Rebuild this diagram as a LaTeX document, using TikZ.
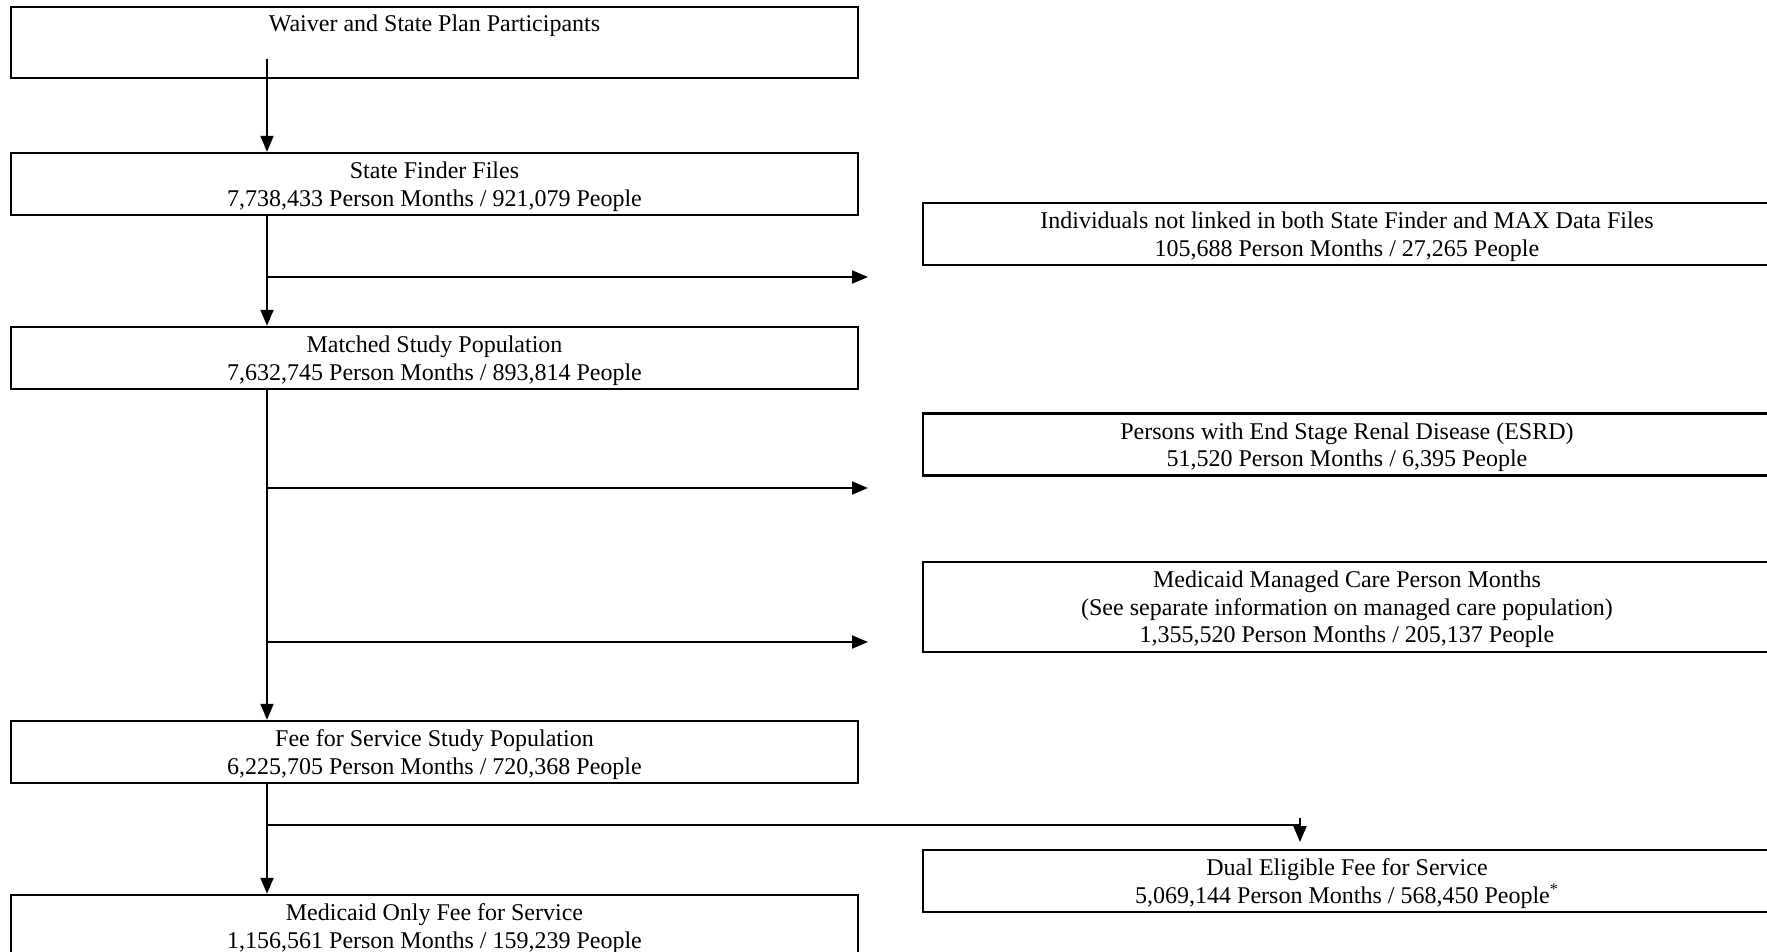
\documentclass[tikz,border=0pt]{standalone}
\usepackage{fontspec}
\setmainfont{Liberation Serif}
\usetikzlibrary{arrows.meta}

\begin{document}
\begin{tikzpicture}[x=0.5pt, y=-0.5pt,
  every node/.style={font=\fontsize{12}{13.8}\selectfont},
  box/.style={draw, line width=1.2pt, align=center, inner sep=2pt, minimum height=31pt, text depth=-1pt},
  leftbox/.style={box, minimum width=423.5pt},
  rightbox/.style={box, minimum width=424pt},
  flow/.style={line width=1pt, -{Triangle[length=8pt,width=6.5pt]}}]
  \useasboundingbox (0,0) rectangle (1767,952);

  % Main column
  \node[leftbox, minimum height=35.5pt,
    label={[anchor=base, yshift=-12.8pt]north:Waiver and State Plan Participants}] (waiver) at (434.5,42.5) {};
  \node[leftbox] (finder) at (434.5,184) {State Finder Files\\7,738,433 Person Months / 921,079 People};
  \node[leftbox] (matched) at (434.5,358) {Matched Study Population\\7,632,745 Person Months / 893,814 People};
  \node[leftbox] (ffs) at (434.5,752) {Fee for Service Study Population\\6,225,705 Person Months / 720,368 People};
  \node[leftbox] (medonly) at (434.5,926) {Medicaid Only Fee for Service\\1,156,561 Person Months / 159,239 People};

  % Excluded groups
  \node[rightbox] (unlinked) at (1347,234) {Individuals not linked in both State Finder and MAX Data Files\\105,688 Person Months / 27,265 People};
  \node[rightbox] (esrd) at (1347,444.5) {Persons with End Stage Renal Disease (ESRD)\\51,520 Person Months / 6,395 People};
  \node[rightbox, minimum height=45pt] (managed) at (1347,607) {Medicaid Managed Care Person Months\\(See separate information on managed care population)\\1,355,520 Person Months / 205,137 People};
  \node[rightbox] (dual) at (1347,881) {Dual Eligible Fee for Service\\5,069,144 Person Months / 568,450 People\textsuperscript{*}};

  % Branch points
  \coordinate (top) at (267,59);
  \coordinate (b1) at (267,277);  \coordinate (e1) at (868,277);
  \coordinate (b2) at (267,488);  \coordinate (e2) at (868,488);
  \coordinate (b3) at (267,642);  \coordinate (e3) at (868,642);
  \coordinate (b4) at (267,825);  \coordinate (e4) at (1300,825);
  \coordinate (d4) at (1300,818); \coordinate (t4) at (1300,842);

  \draw[flow] (top) -- (top |- finder.north);
  \draw[flow] (top |- finder.south) -- (top |- matched.north);
  \draw[flow] (b1) -- (e1);
  \draw[flow] (top |- matched.south) -- (top |- ffs.north);
  \draw[flow] (b2) -- (e2);
  \draw[flow] (b3) -- (e3);
  \draw[flow] (top |- ffs.south) -- (top |- medonly.north);
  \draw[line width=1pt] (b4) -- (e4);
  \draw[flow] (d4) -- (t4);
\end{tikzpicture}
\end{document}
